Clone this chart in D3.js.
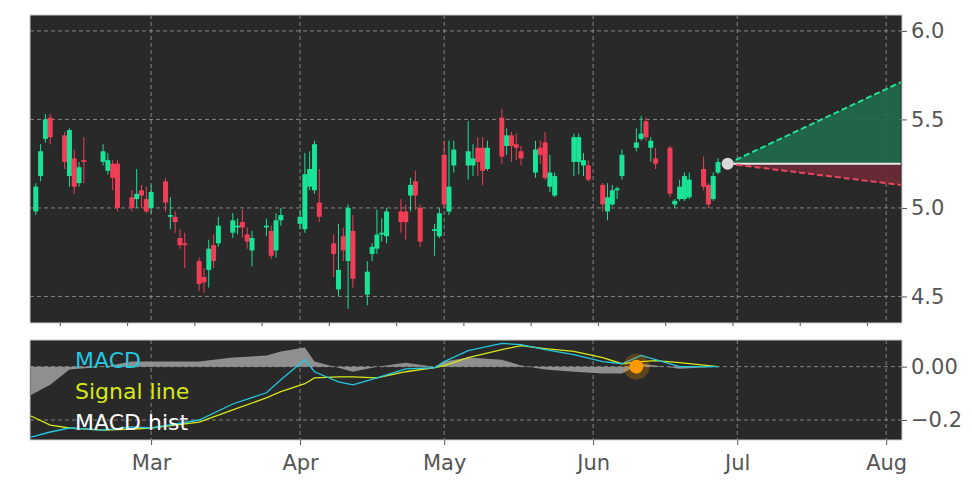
<!DOCTYPE html>
<html>
<head>
<meta charset="utf-8">
<script src="https://cdn.jsdelivr.net/npm/d3@7"></script>
<style>
body { margin: 0; background: #fff; }
text { font-family: "DejaVu Sans", sans-serif; }
</style>
</head>
<body>
<script>
var width = 972;
var height = 486;

// trading days, market holidays skipped
var startDay = "2024-02-06";
var holidays = ["2024-02-19", "2024-03-29", "2024-05-27"];

var opens  = [4.98,5.18,5.39,5.51,5.41,5.18,5.28,5.14,5.27,5.26,5.21,5.25,5.25,5.06,5.05,5.10,5.05,5.00,5.15,4.95,
              4.95,4.83,4.80,4.70,4.61,4.65,4.79,4.80,4.86,4.89,4.92,4.85,4.76,4.89,4.87,4.76,4.93,4.91,4.88,5.12,
              5.10,5.03,4.80,4.54,4.84,4.70,4.87,4.51,4.74,4.77,4.85,4.84,4.98,4.98,5.07,5.15,5.00,4.87,4.84,5.30,
              4.98,5.24,5.24,5.24,5.34,5.34,5.22,5.51,5.35,5.41,5.36,5.32,5.20,5.34,5.37,5.12,5.07,5.26,5.26,5.24,
              5.24,5.13,4.98,5.02,5.10,5.18,5.34,5.39,5.49,5.34,5.28,5.34,5.02,5.05,5.05,5.06,5.22,5.13,5.05,5.20];
var closes = [5.12,5.32,5.50,5.40,5.26,5.44,5.12,5.23,5.26,5.32,5.27,5.17,5.00,5.00,5.08,5.07,4.98,5.09,5.03,4.96,
              4.92,4.79,4.79,4.57,4.58,4.77,4.70,4.90,4.93,4.90,4.89,4.81,4.83,4.90,4.73,4.93,4.96,4.95,5.19,5.22,
              5.36,4.95,4.74,4.65,4.76,5.00,4.60,4.64,4.78,4.85,4.86,4.98,4.92,4.92,5.13,5.07,4.81,4.88,4.97,5.02,
              5.12,5.33,5.32,5.28,5.26,5.21,5.34,5.29,5.41,5.35,5.34,5.28,5.33,5.30,5.17,5.20,5.18,5.40,5.40,5.27,
              5.16,5.02,5.06,5.10,5.11,5.30,5.37,5.42,5.40,5.38,5.25,5.08,5.04,5.12,5.18,5.16,5.12,5.02,5.18,5.26];
var highs  = [5.14,5.36,5.53,5.53,5.43,5.45,5.33,5.26,5.40,5.36,5.31,5.27,5.27,5.10,5.22,5.13,5.12,5.13,5.17,5.06,
              4.98,4.88,4.86,4.72,4.66,4.82,4.85,4.95,4.97,4.94,4.99,4.89,4.87,4.94,4.90,4.97,5.00,4.99,5.31,5.32,
              5.38,5.22,4.85,4.91,4.89,5.02,4.96,4.70,4.80,4.99,4.94,5.00,5.05,5.02,5.17,5.21,5.02,4.91,5.00,5.38,
              5.38,5.38,5.49,5.36,5.40,5.40,5.38,5.56,5.45,5.43,5.42,5.35,5.38,5.38,5.43,5.30,5.20,5.42,5.42,5.31,
              5.27,5.14,5.14,5.13,5.12,5.33,5.45,5.52,5.51,5.40,5.34,5.35,5.05,5.16,5.20,5.20,5.29,5.14,5.20,5.28];
var lows   = [4.96,5.15,5.37,5.36,5.22,5.12,5.08,5.12,5.14,5.24,5.19,5.10,4.98,4.98,5.00,5.00,4.97,4.97,4.98,4.88,
              4.86,4.77,4.66,4.53,4.52,4.55,4.66,4.78,4.83,4.85,4.83,4.77,4.67,4.84,4.71,4.72,4.90,4.88,4.86,5.10,
              5.08,4.92,4.61,4.50,4.70,4.43,4.55,4.45,4.70,4.74,4.81,4.80,4.86,4.82,4.98,4.99,4.78,4.73,4.83,5.00,
              4.96,5.20,5.16,5.18,5.18,5.13,5.21,5.25,5.30,5.26,5.27,5.24,5.17,5.25,5.16,5.09,5.06,5.18,5.19,5.18,
              5.15,4.98,4.93,5.01,5.05,5.16,5.32,5.38,5.38,5.26,5.22,5.06,5.00,5.04,5.04,5.05,5.10,5.00,5.04,5.19];

// projection cone
var projStart = "2024-06-29", projEnd = "2024-08-04";
var projBase = 5.25, projUp = 5.71, projDown = 5.13;

// MACD panel
var macdDates = ["2024-02-05","2024-02-09","2024-02-13","2024-02-20","2024-02-26","2024-03-01","2024-03-11","2024-03-18",
                 "2024-03-25","2024-03-28","2024-04-02","2024-04-04","2024-04-09","2024-04-12","2024-04-17","2024-04-23",
                 "2024-04-29","2024-05-01","2024-05-06","2024-05-13","2024-05-17","2024-05-22","2024-05-28","2024-06-03",
                 "2024-06-07","2024-06-11","2024-06-14","2024-06-19","2024-06-27"];
var macdVals = [-0.264,-0.245,-0.230,-0.238,-0.226,-0.230,-0.200,-0.140,-0.098,-0.049,0.026,-0.019,-0.057,-0.068,-0.042,-0.008,
                -0.004,0.019,0.060,0.087,0.083,0.064,0.045,0.019,0.011,0.042,0.026,0.0,0.0];
var signalVals = [-0.185,-0.219,-0.230,-0.238,-0.234,-0.230,-0.208,-0.162,-0.117,-0.094,-0.064,-0.042,-0.038,-0.038,-0.042,-0.019,
                  -0.004,0.004,0.034,0.064,0.079,0.068,0.057,0.034,0.011,0.019,0.023,0.015,0.0];
var histVals = [-0.106,-0.068,-0.011,0.0,0.019,0.019,0.019,0.034,0.042,0.057,0.072,0.019,-0.004,-0.019,0.0,0.015,
                0,0.019,0.034,0.026,0.004,-0.011,-0.019,-0.026,-0.026,0.011,0.004,-0.008,0.0];
var crossDate = "2024-06-10", crossVal = 0.0;

var parse = d3.timeParse("%Y-%m-%d");

var dates = [];
var d = parse(startDay);
while (dates.length < opens.length) {
  var s = d3.timeFormat("%Y-%m-%d")(d);
  if (d.getDay() != 0 && d.getDay() != 6 && holidays.indexOf(s) < 0) dates.push(new Date(d));
  d = d3.timeDay.offset(d, 1);
}

var left = 30, right = 902;
var x = d3.scaleTime().domain([new Date(2024, 1, 4, 19), new Date(2024, 7, 4, 7)]).range([left, right]);
var y = d3.scaleLinear().domain([4.35, 6.09]).range([323, 15]);
var ym = d3.scaleLinear().domain([-0.275, 0.1]).range([440, 340]);

var svg = d3.select("body").append("svg").attr("width", width).attr("height", height);

function panel(top, bottom) {
  svg.append("rect").attr("x", left).attr("y", top).attr("width", right - left)
    .attr("height", bottom - top).attr("fill", "#292929").attr("stroke", "#ccc");
}
panel(15, 323);
panel(340, 440);

var months = x.ticks(d3.timeMonth.every(1));
var grid = "#9a9a9a";

// main panel grid and axis
svg.append("g").selectAll("line").data(months).enter().append("line")
  .attr("x1", x).attr("x2", x).attr("y1", 15).attr("y2", 323)
  .attr("stroke", grid).attr("stroke-dasharray", "4,3").attr("stroke-width", 0.8);
var pTicks = [4.5, 5.0, 5.5, 6.0];
svg.append("g").selectAll("line").data(pTicks).enter().append("line")
  .attr("x1", left).attr("x2", right).attr("y1", y).attr("y2", y)
  .attr("stroke", grid).attr("stroke-dasharray", "4,3").attr("stroke-width", 0.8);
var ay = svg.append("g").attr("transform", "translate(" + right + ",0)")
  .call(d3.axisRight(y).tickValues(pTicks).tickFormat(d3.format(".1f")).tickSize(5));
ay.select(".domain").remove();
ay.selectAll("text").attr("font-size", 21).attr("fill", "#555").attr("x", 9);
ay.selectAll("line").attr("stroke", "#555");

// small tick marks at the bottom of main panel
var ax1 = svg.append("g").attr("transform", "translate(0,323)")
  .call(d3.axisBottom(x).ticks(d3.timeWeek.every(2)).tickFormat("").tickSize(3));
ax1.select(".domain").remove();
ax1.selectAll("line").attr("stroke", "#555");

// projection
var p0 = parse(projStart), p1 = parse(projEnd);
svg.append("path").attr("d", d3.area().x(function(e){return x(e[0]);}).y0(y(projBase)).y1(function(e){return y(e[1]);})
    ([[p0, projBase], [p1, projUp]])).attr("fill", "#1f6b4a").attr("opacity", 0.9);
svg.append("path").attr("d", d3.area().x(function(e){return x(e[0]);}).y0(y(projBase)).y1(function(e){return y(e[1]);})
    ([[p0, projBase], [p1, projDown]])).attr("fill", "#6b2a35").attr("opacity", 0.9);
svg.append("line").attr("x1", x(p0)).attr("x2", x(p1)).attr("y1", y(projBase)).attr("y2", y(projBase))
  .attr("stroke", "#e8e8e8").attr("stroke-width", 2);
svg.append("line").attr("x1", x(p0)).attr("x2", x(p1)).attr("y1", y(projBase)).attr("y2", y(projUp))
  .attr("stroke", "#22e09a").attr("stroke-width", 2).attr("stroke-dasharray", "6,3");
svg.append("line").attr("x1", x(p0)).attr("x2", x(p1)).attr("y1", y(projBase)).attr("y2", y(projDown))
  .attr("stroke", "#e84560").attr("stroke-width", 2).attr("stroke-dasharray", "6,3");

// candles
var up = "#19e397", down = "#f23d56";
var candles = svg.append("g").selectAll("g").data(dates).enter().append("g");
candles.append("line")
  .attr("x1", function(e){return x(e);}).attr("x2", function(e){return x(e);})
  .attr("y1", function(e, i){return y(highs[i]);}).attr("y2", function(e, i){return y(lows[i]);})
  .attr("stroke", function(e, i){return closes[i] >= opens[i] ? up : down;}).attr("stroke-width", 1);
candles.append("rect")
  .attr("x", function(e){return x(e) - 2.5;}).attr("width", 5)
  .attr("y", function(e, i){return y(Math.max(opens[i], closes[i]));})
  .attr("height", function(e, i){return Math.max(1.5, Math.abs(y(opens[i]) - y(closes[i])));})
  .attr("fill", function(e, i){return closes[i] >= opens[i] ? up : down;});

svg.append("circle").attr("cx", x(p0)).attr("cy", y(projBase)).attr("r", 6).attr("fill", "#d8d8d8");

// MACD panel grid
svg.append("g").selectAll("line").data(months).enter().append("line")
  .attr("x1", x).attr("x2", x).attr("y1", 340).attr("y2", 440)
  .attr("stroke", grid).attr("stroke-dasharray", "4,3").attr("stroke-width", 0.8);
var mTicks = [-0.2, 0.0];
svg.append("g").selectAll("line").data(mTicks).enter().append("line")
  .attr("x1", left).attr("x2", right).attr("y1", ym).attr("y2", ym)
  .attr("stroke", grid).attr("stroke-dasharray", "4,3").attr("stroke-width", 0.8);
var amy = svg.append("g").attr("transform", "translate(" + right + ",0)")
  .call(d3.axisRight(ym).tickValues(mTicks).tickFormat(function(v){return d3.format(".2f")(v).replace("-", "\u2212").replace("0.20", "0.2");}).tickSize(5));
amy.select(".domain").remove();
amy.selectAll("text").attr("font-size", 21).attr("fill", "#555").attr("x", 9);
amy.selectAll("line").attr("stroke", "#555");

var md = macdDates.map(parse);
svg.append("path").datum(histVals)
  .attr("d", d3.area().x(function(v, i){return x(md[i]);}).y0(ym(0)).y1(function(v){return ym(v);}))
  .attr("fill", "#9a9a9a").attr("opacity", 0.9);
svg.append("path").datum(signalVals)
  .attr("d", d3.line().x(function(v, i){return x(md[i]);}).y(function(v){return ym(v);}))
  .attr("fill", "none").attr("stroke", "#d7e81a").attr("stroke-width", 1.3);
svg.append("path").datum(macdVals)
  .attr("d", d3.line().x(function(v, i){return x(md[i]);}).y(function(v){return ym(v);}))
  .attr("fill", "none").attr("stroke", "#22c8e0").attr("stroke-width", 1.3);
svg.append("circle").attr("cx", x(parse(crossDate))).attr("cy", ym(crossVal)).attr("r", 13)
  .attr("fill", "#ff9900").attr("opacity", 0.25);
svg.append("circle").attr("cx", x(parse(crossDate))).attr("cy", ym(crossVal)).attr("r", 7).attr("fill", "#ff9900");

var legend = [["MACD", "#22c8e0"], ["Signal line", "#d7e81a"], ["MACD hist", "#ffffff"]];
svg.append("g").selectAll("text").data(legend).enter().append("text")
  .attr("x", 75).attr("y", function(e, i){return 368 + i * 31;})
  .attr("font-size", 22).attr("fill", function(e){return e[1];}).text(function(e){return e[0];});

var ax2 = svg.append("g").attr("transform", "translate(0,440)")
  .call(d3.axisBottom(x).ticks(d3.timeMonth.every(1)).tickFormat(d3.timeFormat("%b")).tickSize(5));
ax2.select(".domain").remove();
ax2.selectAll("text").attr("font-size", 21).attr("fill", "#555").attr("dy", "1.05em");
ax2.selectAll("line").attr("stroke", "#555");
ax2.selectAll(".tick").filter(function(e){return e.getMonth() == 1;}).select("text").remove();
</script>
</body>
</html>
